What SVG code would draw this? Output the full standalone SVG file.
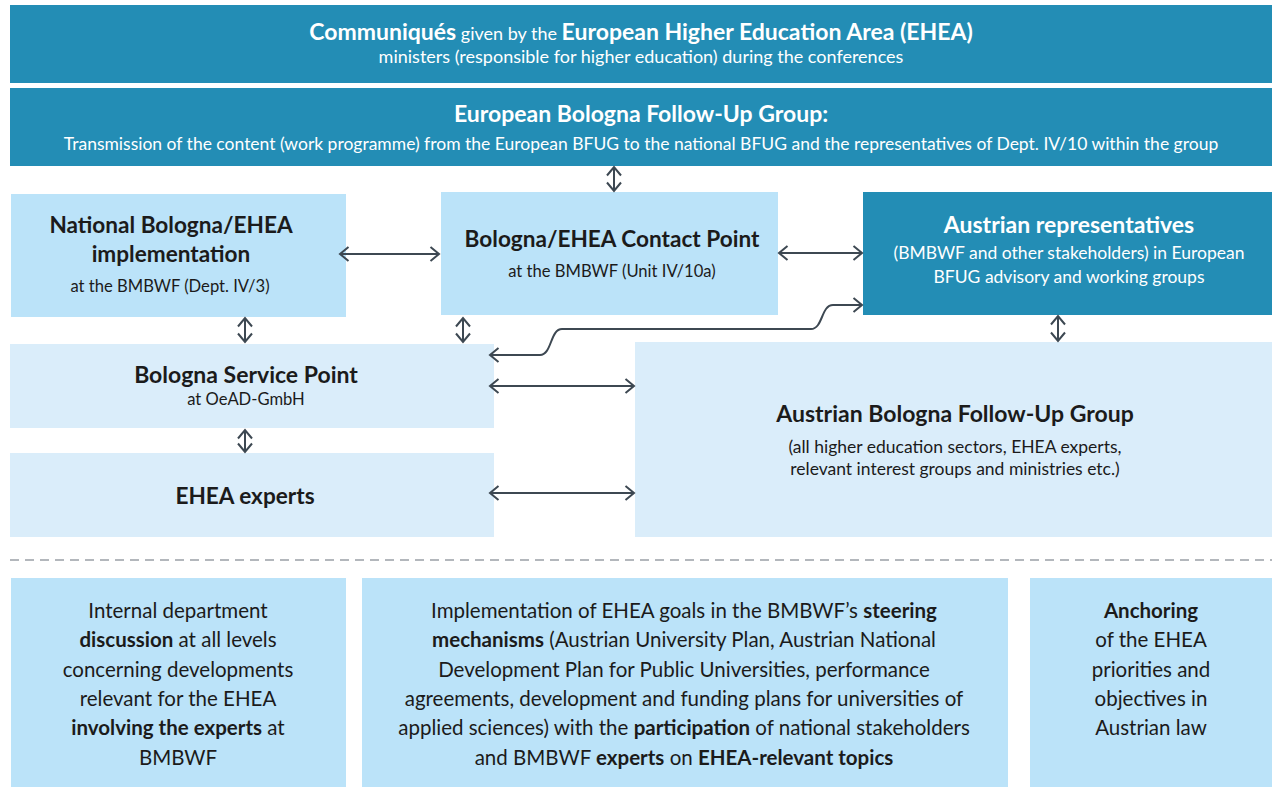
<svg xmlns="http://www.w3.org/2000/svg" width="1272" height="787" viewBox="0 0 1272 787">
<defs>
<style>
text{font-family:Lato,"Liberation Sans",sans-serif;text-anchor:middle}
.w{fill:#ffffff}
.d{fill:#1b1b1b}
.b{font-weight:700}
.h{font-size:23px;font-weight:700}
.hs{font-size:22.6px;font-weight:700}
.s{font-size:17.5px}
.s18{font-size:18px}
.ss{font-size:16.6px}
.p{font-size:20.5px}
.teal{fill:#238db5}
.lb{fill:#bbe3f9}
.xl{fill:#daedfa}
.con{fill:none;stroke:#3d4852;stroke-width:2;marker-start:url(#ah);marker-end:url(#ah)}
</style>
<marker id="ah" viewBox="-11 -9 13 18" refX="0" refY="0" markerWidth="13" markerHeight="18" markerUnits="userSpaceOnUse" orient="auto-start-reverse">
<path d="M-8.5,-7 L0,0 L-8.5,7" fill="none" stroke="#3d4852" stroke-width="2" stroke-linejoin="miter"/>
</marker>
</defs>
<rect width="1272" height="787" fill="#ffffff"/>

<g id="communiques">
<rect class="teal" x="10" y="5" width="1262" height="78"/>
<text class="w" x="641" y="40"><tspan class="h">Communiqués</tspan><tspan class="s18"> given by the </tspan><tspan class="h">European Higher Education Area (EHEA)</tspan></text>
<text class="w s18" x="641" y="63">ministers (responsible for higher education) during the conferences</text>
</g>

<g id="european-bfug">
<rect class="teal" x="10" y="88" width="1262" height="78"/>
<text class="w h" x="641" y="122">European Bologna Follow-Up Group:</text>
<text class="w s" x="641" y="150">Transmission of the content (work programme) from the European BFUG to the national BFUG and the representatives of Dept. IV/10 within the group</text>
</g>

<g id="national">
<rect class="lb" x="11" y="194" width="335" height="123"/>
<text class="d hs" x="171" y="233">National Bologna/EHEA</text>
<text class="d hs" x="171" y="262">implementation</text>
<text class="d ss" x="170" y="292">at the BMBWF (Dept. IV/3)</text>
</g>

<g id="contact-point">
<rect class="lb" x="441" y="192" width="337" height="123"/>
<text class="d hs" x="612" y="247">Bologna/EHEA Contact Point</text>
<text class="d ss" x="612" y="277">at the BMBWF (Unit IV/10a)</text>
</g>

<g id="austrian-representatives">
<rect class="teal" x="863" y="192" width="409" height="123"/>
<text class="w h" x="1069" y="233">Austrian representatives</text>
<text class="w s" x="1069" y="259">(BMBWF and other stakeholders) in European</text>
<text class="w s" x="1069" y="283">BFUG advisory and working groups</text>
</g>

<g id="service-point">
<rect class="xl" x="10" y="344" width="484" height="84"/>
<text class="d h" x="246" y="383">Bologna Service Point</text>
<text class="d ss" x="246" y="405">at OeAD-GmbH</text>
</g>

<g id="ehea-experts">
<rect class="xl" x="10" y="453" width="484" height="84"/>
<text class="d hs" x="245" y="504">EHEA experts</text>
</g>

<g id="austrian-bfug">
<rect class="xl" x="635" y="342" width="637" height="195"/>
<text class="d h" x="955" y="422">Austrian Bologna Follow-Up Group</text>
<text class="d s" x="955" y="453">(all higher education sectors, EHEA experts,</text>
<text class="d s" x="955" y="475">relevant interest groups and ministries etc.)</text>
</g>

<g id="connectors">
<line class="con" x1="614" y1="167" x2="614" y2="191"/>
<line class="con" x1="340" y1="254" x2="439" y2="254"/>
<line class="con" x1="779" y1="253" x2="862" y2="253"/>
<line class="con" x1="245" y1="318" x2="245" y2="342"/>
<line class="con" x1="463" y1="318" x2="463" y2="342"/>
<path class="con" d="M862 305 H833 C821 305 823 329 811 329 H562 C550 329 552 355 540 355 H490"/>
<line class="con" x1="490" y1="386" x2="634" y2="386"/>
<line class="con" x1="245" y1="430" x2="245" y2="452"/>
<line class="con" x1="490" y1="493" x2="634" y2="493"/>
<line class="con" x1="1058" y1="316" x2="1058" y2="341"/>
</g>

<line id="separator" x1="10" y1="560" x2="1272" y2="560" stroke="#9aa0a6" stroke-width="1.3" stroke-dasharray="9 6"/>

<g id="internal-discussion">
<rect class="lb" x="11" y="578" width="335" height="209"/>
<text class="d p" x="178" y="618">Internal department</text>
<text class="d p" x="178" y="647"><tspan class="b">discussion</tspan> at all levels</text>
<text class="d p" x="178" y="677">concerning developments</text>
<text class="d p" x="178" y="706">relevant for the EHEA</text>
<text class="d p" x="178" y="735"><tspan class="b">involving the experts</tspan> at</text>
<text class="d p" x="178" y="765">BMBWF</text>
</g>

<g id="steering-mechanisms">
<rect class="lb" x="362" y="578" width="646" height="209"/>
<text class="d p" x="684" y="618">Implementation of EHEA goals in the BMBWF’s <tspan class="b">steering</tspan></text>
<text class="d p" x="684" y="647"><tspan class="b">mechanisms</tspan> (Austrian University Plan, Austrian National</text>
<text class="d p" x="684" y="677">Development Plan for Public Universities, performance</text>
<text class="d p" x="684" y="706">agreements, development and funding plans for universities of</text>
<text class="d p" x="684" y="735">applied sciences) with the <tspan class="b">participation</tspan> of national stakeholders</text>
<text class="d p" x="684" y="765">and BMBWF <tspan class="b">experts</tspan> on <tspan class="b">EHEA-relevant topics</tspan></text>
</g>

<g id="anchoring">
<rect class="lb" x="1030" y="578" width="242" height="209"/>
<text class="d p b" x="1151" y="618">Anchoring</text>
<text class="d p" x="1151" y="647">of the EHEA</text>
<text class="d p" x="1151" y="677">priorities and</text>
<text class="d p" x="1151" y="706">objectives in</text>
<text class="d p" x="1151" y="735">Austrian law</text>
</g>
</svg>
